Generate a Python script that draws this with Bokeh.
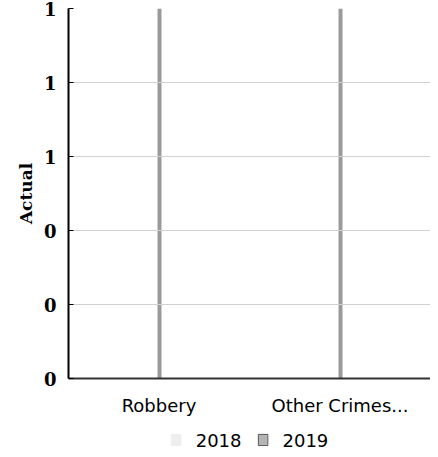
from bokeh.plotting import figure
from bokeh.layouts import column
from bokeh.models import (ColumnDataSource, Range1d, NumeralTickFormatter,
                          Legend, LegendItem)
from bokeh.transform import dodge
from bokeh.embed import file_html
from bokeh.resources import INLINE

# ---- data ----
categories = ["Robbery", "Other Crimes..."]
years = ["2018", "2019"]
actual_2018 = [0, 0]
actual_2019 = [0, 0]
colors = ["#eeeeee", "#b4b4b4"]
outline_colors = ["#eeeeee", "#555555"]

source = ColumnDataSource(data=dict(cat=categories,
                                    y2018=actual_2018,
                                    y2019=actual_2019))

p = figure(x_range=categories, y_range=Range1d(0, 1),
           width=430, height=430, output_backend="svg",
           toolbar_location=None,
           min_border_left=68, min_border_right=0, min_border_top=8,
           min_border_bottom=52)

r1 = p.vbar(x=dodge("cat", -0.25, range=p.x_range), top="y2018", width=0.5,
            source=source, fill_color=colors[0], line_color=outline_colors[0])
r2 = p.vbar(x=dodge("cat", 0.25, range=p.x_range), top="y2019", width=0.5,
            source=source, fill_color=colors[1], line_color=outline_colors[1])

# axes
p.yaxis.axis_label = "Actual"
p.yaxis.axis_label_text_font = "DejaVu Serif"
p.yaxis.axis_label_text_font_style = "bold"
p.yaxis.axis_label_text_font_size = "17px"
p.yaxis.axis_label_text_color = "black"
p.yaxis.formatter = NumeralTickFormatter(format="0")
p.yaxis.major_label_text_font = "DejaVu Serif"
p.yaxis.major_label_text_font_style = "bold"
p.yaxis.major_label_text_font_size = "18px"
p.yaxis.major_label_text_color = "black"
p.yaxis.major_label_standoff = 8
p.yaxis.major_tick_in = 5
p.yaxis.major_tick_out = 0
p.yaxis.minor_tick_line_color = None
p.yaxis.axis_line_width = 2
p.yaxis.axis_line_color = "black"

p.xaxis.major_label_text_font = "DejaVu Sans"
p.xaxis.major_label_text_font_size = "18px"
p.xaxis.major_label_text_color = "black"
p.xaxis.major_label_standoff = 10
p.xaxis.major_tick_line_color = None
p.xaxis.axis_line_width = 2
p.xaxis.axis_line_color = "#333333"

# grids
p.xgrid.grid_line_color = "#9a9a9a"
p.xgrid.grid_line_width = 4
p.ygrid.grid_line_color = "#d0d0d0"
p.outline_line_color = None

# legend strip below the chart (same data, drawn out of view so only the
# legend shows)
leg_fig = figure(width=430, height=19, output_backend="svg",
                 toolbar_location=None, x_range=p.x_range,
                 y_range=Range1d(1, 2),
                 min_border_left=68, min_border_right=0,
                 min_border_top=0, min_border_bottom=0)
leg_fig.axis.visible = False
leg_fig.grid.visible = False
leg_fig.outline_line_color = None
d1 = leg_fig.vbar(x=dodge("cat", -0.25, range=leg_fig.x_range), top="y2018",
                  width=0.5, source=source,
                  fill_color=colors[0], line_color=outline_colors[0])
d2 = leg_fig.vbar(x=dodge("cat", 0.25, range=leg_fig.x_range), top="y2019",
                  width=0.5, source=source,
                  fill_color=colors[1], line_color=outline_colors[1])

legend = Legend(items=[LegendItem(label=years[0], renderers=[d1]),
                       LegendItem(label=years[1], renderers=[d2])],
                orientation="horizontal", location="center",
                label_text_font="DejaVu Sans", label_text_font_size="18px",
                label_text_color="black", label_height=18,
                glyph_width=12, glyph_height=14, label_standoff=14,
                spacing=15, padding=0, margin=0,
                border_line_alpha=0, background_fill_alpha=0)
leg_fig.add_layout(legend)

layout = column(p, leg_fig, spacing=0)
open("out.html", "w").write(file_html(layout, INLINE))
